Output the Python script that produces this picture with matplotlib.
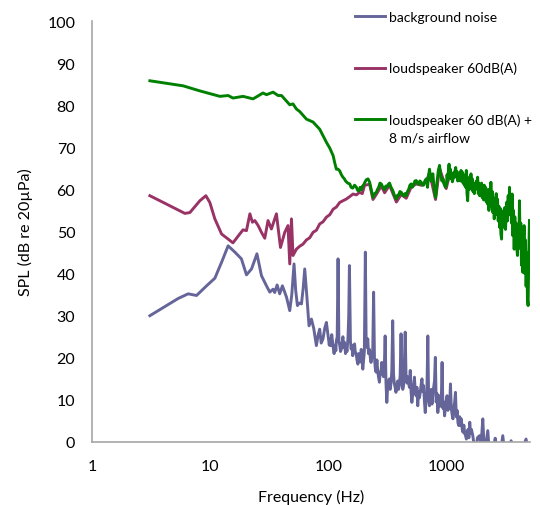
import matplotlib
matplotlib.use('Agg')
import matplotlib.pyplot as plt
from matplotlib.ticker import FixedLocator, FixedFormatter, NullLocator

plt.rcParams['font.family'] = ['Lato', 'DejaVu Sans']

# background noise
noise_f = [3.09, 4.28, 5.37, 6.52, 7.67, 9.33, 10.96, 12.5, 14.2, 16.2,
           18.4, 20.3, 22.4, 24.9, 27.2, 29.0, 30.1, 32.0, 34.1, 35.2,
           36.9, 38.8, 40.9, 44.3, 47.2, 49.1, 51.3, 53.0, 54.8, 56.8,
           59.3, 61.3, 63.2, 65.7, 68.7, 72.0, 75.3, 79.3, 82.2, 84.6,
           87.1, 90.2, 93.3, 96.4,
           100, 102, 103, 105, 107, 108, 110, 112, 114, 116,
           117, 119, 121, 123, 125, 127, 129, 131, 133, 135,
           137, 140, 142, 144, 147, 149, 151, 154, 156, 159,
           161, 164, 167, 169, 172, 175, 178, 181, 184, 187,
           190, 193, 196, 199, 202, 206, 209, 212, 216, 219,
           223, 227, 230, 234, 238, 242, 246, 250, 254, 258,
           262, 266, 271, 275, 280, 284, 289, 294, 298, 303,
           308, 313, 318, 324, 329, 334, 340, 345, 351, 357,
           362, 368, 374, 381, 387, 393, 400, 406, 413, 420,
           427, 434, 441, 448, 455, 463, 470, 478, 486, 494,
           502, 510, 519, 527, 536, 545, 554, 563, 572, 581,
           591, 601, 610, 621, 631, 641, 652, 662, 673, 684,
           696, 707, 719, 731, 743, 755, 767, 780, 793, 806,
           819, 833, 846, 860, 875, 889, 904, 919, 934, 949,
           965, 981, 997, 1013, 1030, 1047, 1064, 1082, 1100, 1118,
           1136, 1155, 1174, 1193, 1213, 1233, 1253, 1274, 1295, 1316,
           1338, 1360, 1383, 1405, 1429, 1452, 1476, 1500, 1525, 1550,
           1576, 1602, 1628, 1673, 1711, 1787, 1832, 1905, 1962, 2032,
           2080, 2142, 2239, 2291, 2392, 2477, 2588, 2654, 2721, 2866,
           3000, 3099, 3283, 3530, 3690, 3990, 4316, 4723, 4898]
noise_db = [30.0, 32.4, 34.1, 35.2, 34.8, 37.1, 38.9, 42.7, 46.6, 45.1,
            43.5, 39.7, 41.1, 44.7, 39.5, 37.9, 37.0, 35.6, 36.3, 35.5,
            37.3, 35.2, 37.1, 34.4, 31.2, 35.0, 42.3, 36.0, 32.4, 33.0,
            32.8, 36.5, 41.1, 35.0, 27.6, 29.2, 27.0, 22.9, 25.5, 26.8,
            23.5, 24.5, 27.0, 28.4,
            25.0, 23.0, 24.5, 22.9, 25.5, 24.5, 22.5, 21.0, 23.0, 21.7,
            24.0, 25.0, 43.5, 24.0, 23.0, 21.5, 22.1, 23.5, 25.0, 22.5,
            23.7, 21.0, 22.5, 21.5, 25.0, 30.0, 41.9, 24.0, 22.1, 23.0,
            20.5, 22.0, 23.3, 21.5, 21.0, 19.5, 18.5, 21.0, 20.1, 19.0,
            22.0, 20.0, 17.3, 19.5, 21.5, 45.1, 25.0, 22.5, 24.5, 21.0,
            22.0, 20.0, 18.9, 20.5, 22.0, 35.6, 20.0, 17.5, 16.6, 19.5,
            17.0, 15.5, 14.2, 16.5, 17.0, 18.9, 16.0, 15.5, 17.5, 25.2,
            14.0, 9.4, 13.0, 14.5, 15.0, 12.5, 14.0, 17.0, 28.8, 16.0,
            14.0, 13.0, 11.8, 13.5, 14.5, 12.5, 13.4, 16.0, 25.7, 15.0,
            12.5, 13.4, 19.0, 26.1, 16.0, 14.0, 15.5, 14.2, 13.0, 17.0,
            12.0, 9.4, 11.5, 13.5, 15.4, 12.0, 11.0, 13.0, 8.6, 12.0,
            10.5, 11.8, 13.5, 15.0, 12.0, 13.4, 9.5, 7.0, 10.0, 12.0,
            25.2, 10.0, 8.6, 11.0, 12.5, 9.0, 11.0, 13.0, 14.5, 20.1,
            9.5, 11.5, 7.0, 9.5, 11.0, 8.5, 9.0, 18.9, 8.0, 9.5,
            6.2, 8.0, 10.0, 11.0, 7.5, 9.5, 8.0, 13.8, 8.0, 6.5,
            5.5, 8.0, 9.5, 11.8, 6.0, 7.5, 4.5, 3.9, 6.0, 4.0,
            5.5, 3.0, 2.3, 4.0, 2.0, 1.5, 0.7, 2.5, 3.0, 1.0,
            4.7, 2.0, 3.0, 1.5, -0.5, -1.0, 1.0, 1.5, -1.0, 5.5,
            -0.5, -1.5, 2.7, -1.0, -1.5, -2.0, 0.9, -1.0, -2.0, -2.5,
            1.5, -2.0, -3.0, 0.3, -2.0, -3.0, -2.0, 0.7, -2.0]

# loudspeaker 60dB(A)
spk_f = [3.09, 4.28, 6.11, 6.74, 8.18, 9.20, 9.94, 10.96, 12.5, 14.2,
         15.6, 17.8, 19.0, 20.3, 21.7, 22.8, 23.9, 25.5, 27.2, 29.0,
         30.9, 33.0, 36.4, 39.4, 42.8, 45.6, 47.2, 48.8, 50.3, 53.7,
         57.3, 61.1, 65.3, 69.6, 74.3, 79.3, 84.6, 90.2, 96.4, 103,
         110, 117, 125, 133, 142, 152, 162, 173, 184, 194,
         203, 224, 239, 255, 281, 300, 330, 377, 415, 457,
         504, 556, 612, 675, 719, 809, 875, 996, 1062, 1211,
         1376, 1517, 1728, 2032, 2172, 2392, 2552, 2907, 3415, 3761,
         4149, 4425, 4877, 5040]
spk_db = [58.5, 56.5, 54.3, 54.5, 57.3, 58.5, 56.9, 53.0, 49.4, 48.2,
          47.3, 49.4, 50.4, 50.2, 54.2, 52.2, 52.6, 51.4, 49.8, 48.4,
          52.6, 50.6, 54.2, 46.2, 49.8, 51.4, 42.3, 53.0, 44.3, 45.8,
          46.5, 47.0, 48.0, 48.5, 49.8, 50.3, 51.8, 52.3, 53.4, 54.0,
          55.3, 55.8, 56.9, 57.3, 57.7, 58.3, 58.9, 58.7, 59.3, 59.0,
          61.0, 61.2, 57.6, 58.8, 60.8, 59.2, 61.0, 57.0, 58.8, 57.9,
          60.6, 61.3, 61.0, 61.8, 64.0, 57.6, 65.0, 60.2, 63.5, 63.5,
          62.5, 61.5, 60.5, 59.5, 58.5, 57.5, 56.0, 52.5, 56.0, 50.0,
          49.0, 45.0, 40.0, 45.0]

# loudspeaker 60 dB(A) + 8 m/s airflow
air_f = [3.09, 4.28, 5.91, 8.18, 12.1, 14.2, 15.6, 19.0, 23.1, 28.0,
         30.0, 34.1, 37.6, 40.2, 47.2, 50.3, 53.7, 57.3, 65.3, 74.3,
         84.6, 96.4,
         103, 106, 110, 113, 117, 121, 125, 129, 133, 137,
         140, 146, 152, 156, 161, 167, 173, 177, 181, 186,
         191, 195, 199, 205, 210, 217, 224, 231, 239, 247,
         255, 261, 267, 274, 281, 290, 300, 307, 315, 322,
         330, 340, 352, 364, 377, 385, 394, 404, 415, 424,
         434, 445, 457, 468, 479, 491, 504, 515, 527, 541,
         556, 568, 581, 596, 612, 626, 640, 657, 675, 683,
         692, 705, 719, 730, 741, 754, 768, 777, 786, 797,
         809, 821, 833, 854, 875, 888, 900, 916, 933, 948,
         964, 980,
         1000, 1013, 1026, 1040, 1053, 1067, 1081, 1095, 1109, 1124,
         1138, 1153, 1168, 1183, 1199, 1214, 1230, 1246, 1262, 1279,
         1295, 1312, 1329, 1347, 1364, 1382, 1400, 1418, 1437, 1455,
         1474, 1494, 1513, 1533, 1553, 1573, 1594, 1614, 1635, 1657,
         1678, 1700, 1722, 1745, 1768, 1791, 1814, 1838, 1861, 1886,
         1910, 1935, 1960, 1986, 2012, 2038, 2065, 2092, 2119, 2146,
         2174, 2203, 2231, 2260, 2290, 2320, 2350, 2380, 2411, 2443,
         2475, 2507, 2540, 2573, 2606, 2640, 2675, 2710, 2745, 2781,
         2817, 2853, 2891, 2928, 2966, 3005, 3044, 3084, 3124, 3165,
         3206, 3248, 3290, 3333, 3376, 3420, 3465, 3510, 3556, 3602,
         3649, 3697, 3745, 3794, 3843, 3893, 3944, 3995, 4047, 4100,
         4154, 4208, 4262, 4318, 4374, 4431, 4489, 4548, 4607, 4667,
         4728, 4789, 4852, 4915, 4979, 5044]
air_db = [85.8, 85.2, 84.6, 83.4, 82.1, 82.3, 81.7, 82.1, 81.5, 82.9,
          82.5, 83.1, 82.3, 82.3, 80.1, 80.3, 79.1, 78.5, 76.7, 76.0,
          74.3, 71.2,
          69.8, 69.0, 68.0, 66.5, 64.8, 64.8, 64.4, 63.5, 62.9, 62.5,
          62.0, 61.5, 61.3, 60.5, 60.3, 61.0, 60.5, 59.8, 59.6, 60.5,
          59.9, 60.8, 61.0, 61.8, 62.3, 62.5, 61.7, 60.0, 58.1, 59.0,
          59.3, 60.0, 60.5, 61.5, 61.3, 60.5, 59.9, 60.8, 60.6, 61.2,
          61.5, 60.5, 59.7, 58.5, 57.7, 58.6, 58.6, 59.5, 59.3, 58.8,
          58.4, 59.0, 58.5, 59.5, 60.0, 61.0, 61.3, 60.5, 61.0, 62.0,
          62.1, 61.5, 61.2, 62.0, 61.7, 61.0, 61.0, 62.0, 62.5, 61.5,
          60.5, 63.0, 64.8, 63.5, 62.0, 63.0, 63.7, 62.0, 60.5, 59.0,
          58.1, 59.5, 61.8, 64.5, 65.7, 64.0, 63.0, 62.0, 62.5, 61.5,
          61.0, 60.5,
          61.0, 63.5, 62.0, 64.5, 66.0, 63.0, 64.8, 62.5, 63.8, 61.8,
          62.5, 64.0, 62.8, 64.5, 65.2, 63.0, 64.2, 62.0, 63.5, 62.2,
          64.0, 62.0, 64.5, 63.0, 64.1, 61.5, 63.5, 61.0, 62.8, 60.5,
          64.5, 59.0, 57.3, 61.5, 60.0, 63.0, 61.0, 63.7, 60.0, 62.5,
          59.5, 61.5, 59.0, 61.0, 60.0, 62.0, 60.5, 62.9, 59.0, 61.5,
          58.5, 60.5, 59.0, 61.5, 58.0, 60.5, 57.5, 61.0, 58.5, 60.5,
          57.0, 59.0, 56.5, 60.0, 55.0, 58.5, 57.0, 61.7, 56.0, 59.5,
          54.5, 58.0, 53.0, 57.5, 55.0, 59.0, 54.0, 57.7, 52.5, 56.0,
          51.0, 55.5, 49.5, 48.2, 54.0, 51.0, 55.0, 52.0, 55.7, 50.5,
          54.5, 57.0, 52.5, 58.5, 55.0, 60.5, 54.0, 58.0, 52.0, 58.9,
          49.0, 55.0, 45.8, 53.5, 47.0, 52.0, 46.0, 44.3, 51.0, 47.0,
          57.3, 46.0, 52.0, 42.0, 49.0, 40.3, 47.0, 51.4, 40.0, 48.0,
          37.0, 45.0, 34.0, 32.4, 44.0, 52.6]

assert len(noise_f) == len(noise_db)
assert len(spk_f) == len(spk_db)
assert len(air_f) == len(air_db)

x_ticks = [1, 10, 100, 1000]
x_labels = ['1', '10', '100', '1000']
y_ticks = list(range(0, 101, 10))

fig = plt.figure(figsize=(5.4, 5.06), dpi=100)
ax = fig.add_axes([92/540, 1-443/506, 438/540, 421/506])

ax.plot(noise_f, noise_db, color='#65659a', lw=2.1, label='background noise')
ax.plot(spk_f, spk_db, color='#993366', lw=2.1, label='loudspeaker 60dB(A)')
ax.plot(air_f, air_db, color='#008000', lw=2.1, label='loudspeaker 60 dB(A) +')

ax.set_xscale('log')
ax.set_xlim(1, 5100)
ax.set_ylim(0, 100)
ax.xaxis.set_major_locator(FixedLocator(x_ticks))
ax.xaxis.set_major_formatter(FixedFormatter(x_labels))
ax.xaxis.set_minor_locator(NullLocator())
ax.set_yticks(y_ticks)
ax.tick_params(length=0, labelsize=11.5, colors='black')
ax.tick_params(axis='y', pad=12)
ax.tick_params(axis='x', pad=12)

for s in ['top', 'right']:
  ax.spines[s].set_visible(False)
for s in ['left', 'bottom']:
  ax.spines[s].set_color('#a6a6a6')
  ax.spines[s].set_linewidth(1.2)

ax.set_xlabel('Frequency (Hz)', fontsize=11.5, labelpad=11.5)
ax.set_ylabel('SPL (dB re 20µPa)', fontsize=11.5, labelpad=10)

leg = fig.legend(loc='upper left', bbox_to_anchor=(355/540, 1-12/506), frameon=False,
                 fontsize=10, handlelength=2.15, handletextpad=0.3, labelspacing=2.8,
                 borderpad=0, borderaxespad=0)

# second line of the last legend label, placed under the first one
fig.canvas.draw()
bb = leg.get_texts()[2].get_window_extent()
fig.text(bb.x0/540, (bb.y0 - 18)/506, '8 m/s airflow', fontsize=10, ha='left', va='bottom')

fig.savefig('out.png', dpi=100)
